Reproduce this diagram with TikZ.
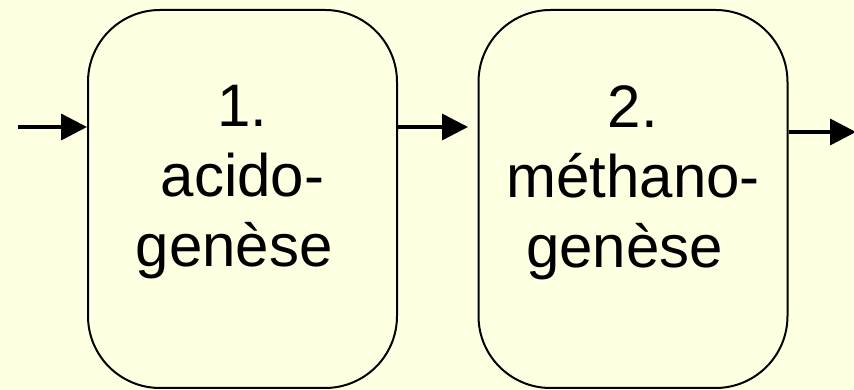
\documentclass[tikz,border=0pt]{standalone}
\usepackage{fontspec}
\setmainfont{Liberation Sans}
\usetikzlibrary{arrows.meta}
\definecolor{bg}{RGB}{255,255,225}
\tikzset{
  stage/.style={draw=black, line width=2pt, fill=bg, rounded corners=72pt,
    minimum width=309pt, minimum height=378pt, inner sep=0pt},
  lbl/.style={align=center, font=\fontsize{60pt}{70pt}\selectfont,
    inner sep=0pt, anchor=north},
  arr/.style={line width=3.5pt, -{Triangle[length=26pt,width=26pt]}}
}
\begin{document}
\begin{tikzpicture}[x=1pt,y=1pt]
\fill[bg] (0,0) rectangle (854,390);
\useasboundingbox (0,0) rectangle (854,390);
\node[stage] (b1) at (242.5,191) {};
\node[stage] (b2) at (633,191) {};
\node[lbl] (t1) at (242.5,305) {1.\\acido-\\genèse\hspace*{0.278em}};
\node[lbl] (t2) at (633,305) {2.\\méthano-\\genèse\hspace*{0.278em}};
\coordinate (in) at (18,263);
\coordinate (a2) at (468,263);
\coordinate (out) at (856,258);
\draw[arr] (in) -- (b1.west |- in);
\draw[arr] (b1.east |- a2) -- (a2);
\draw[arr] (b2.east |- out) -- (out);
\end{tikzpicture}
\end{document}
